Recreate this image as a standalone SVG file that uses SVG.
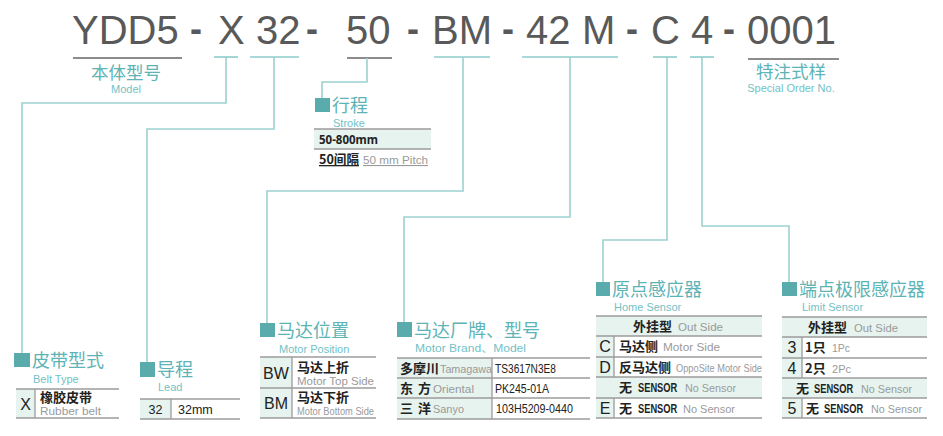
<svg xmlns="http://www.w3.org/2000/svg" width="943" height="436" viewBox="0 0 943 436">
<style>
.hd{font-family:"Liberation Sans",Arial,sans-serif;font-size:40px;fill:#595959}
.dash{font-family:"Liberation Sans",Arial,sans-serif;font-size:36px;font-weight:bold;fill:#595959}
.ttl{font-family:"Noto Sans CJK SC",sans-serif;font-size:18px;fill:#5db3b5}
.hsub{font-family:"Noto Sans CJK SC",sans-serif;font-size:17.5px;fill:#5db3b5}
.sub{font-family:"Liberation Sans","Noto Sans CJK SC",sans-serif;font-size:11px;fill:#72c2c5}
.cn{font-family:"Noto Sans CJK SC",sans-serif;font-size:13px;font-weight:700;fill:#222}
.en{font-family:"Liberation Sans",Arial,sans-serif;font-size:11px;fill:#9a9a9a}
.code{font-family:"Liberation Sans",Arial,sans-serif;font-size:16px;fill:#222}
.val{font-family:"Liberation Sans",Arial,sans-serif;font-size:12.5px;fill:#222}
.snr{font-family:"Liberation Sans",Arial,sans-serif;font-size:13.5px;font-weight:700;fill:#222}
.sq{fill:#5aabab}
.fl{fill:#e6f3ee}
.rl{stroke:#9c9c9c;stroke-width:1.3;fill:none}
.cl{stroke:#9dd1d1;stroke-width:1.6;fill:none}
.ul{stroke:#8fcccc;stroke-width:1.6}
.ulg{stroke:#666;stroke-width:1.3}
</style>

<g id="header">
<text class="hd" x="72" y="44">YDD5</text>
<text class="dash" x="190" y="41">-</text>
<text class="hd" x="218" y="44">X</text>
<text class="hd" x="256" y="44">32</text>
<text class="dash" x="306" y="41">-</text>
<text class="hd" x="346" y="44">50</text>
<text class="dash" x="407" y="41">-</text>
<text class="hd" x="432" y="44">BM</text>
<text class="dash" x="502" y="41">-</text>
<text class="hd" x="526" y="44">42</text>
<text class="hd" x="582" y="44">M</text>
<text class="dash" x="626" y="41">-</text>
<text class="hd" x="651" y="44">C</text>
<text class="hd" x="691" y="44">4</text>
<text class="dash" x="723" y="41">-</text>
<text class="hd" x="747" y="44">0001</text>
<line class="ulg" x1="73" y1="58" x2="182" y2="58"/>
<line class="ul" x1="214" y1="57" x2="238" y2="57"/>
<line class="ul" x1="250" y1="57" x2="299" y2="57"/>
<line class="ulg" x1="347" y1="58" x2="392" y2="58"/>
<line class="ul" x1="434" y1="57" x2="490" y2="57"/>
<line class="ul" x1="522" y1="57" x2="618" y2="57"/>
<line class="ul" x1="653" y1="57" x2="677" y2="57"/>
<line class="ul" x1="690" y1="57" x2="714" y2="57"/>
<line class="ulg" x1="748" y1="59" x2="839" y2="59"/>
</g>

<g id="model">
<text class="hsub" x="126" y="78.5" text-anchor="middle">本体型号</text>
<text class="sub" x="126" y="93" text-anchor="middle">Model</text>
</g>

<g id="special-order">
<text class="hsub" x="791" y="77.5" text-anchor="middle">特注式样</text>
<text class="sub" x="791" y="91.5" text-anchor="middle">Special Order No.</text>
</g>

<g id="connectors">
<path class="cl" d="M226 57V103H22V353"/>
<path class="cl" d="M274 57V129H147V362"/>
<path class="cl" d="M367 58V82H322V98"/>
<path class="cl" d="M463 57V191H267V323"/>
<path class="cl" d="M570 57V217H404V322"/>
<path class="cl" d="M667 57V240H603V282"/>
<path class="cl" d="M702 57V226H789V282"/>
</g>

<g id="stroke">
<rect class="sq" x="315" y="98" width="15" height="14"/>
<text class="ttl" x="332" y="112">行程</text>
<text class="sub" x="333" y="126.5">Stroke</text>
<rect class="fl" x="314" y="129" width="117" height="20"/>
<path class="rl" d="M314 129H431M314 149H431"/>
<text x="319" y="144" font-family="Noto Sans,sans-serif" font-size="13" font-weight="700" fill="#222" textLength="59" lengthAdjust="spacingAndGlyphs">50-800mm</text>
<text x="319" y="164" font-family="Noto Sans CJK SC,sans-serif" font-size="13" font-weight="700" fill="#222" text-decoration="underline" textLength="40" lengthAdjust="spacingAndGlyphs">50间隔</text>
<text x="363" y="164" class="en" text-decoration="underline" textLength="65" lengthAdjust="spacingAndGlyphs">50 mm Pitch</text>
</g>

<g id="belt-type">
<rect class="sq" x="14" y="353" width="16" height="14"/>
<text class="ttl" x="32" y="367">皮带型式</text>
<text class="sub" x="33" y="383">Belt Type</text>
<rect class="fl" x="16" y="389" width="19" height="29"/>
<path class="rl" d="M16 389H119M16 418H119M35 389V418"/>
<text class="code" x="25.5" y="410" text-anchor="middle">X</text>
<text class="cn" x="40" y="402">橡胶皮带</text>
<text class="en" x="40" y="415" textLength="61" lengthAdjust="spacingAndGlyphs">Rubber belt</text>
</g>

<g id="lead">
<rect class="sq" x="140" y="362" width="15" height="15"/>
<text class="ttl" x="157" y="376">导程</text>
<text class="sub" x="158" y="391">Lead</text>
<rect class="fl" x="140" y="399" width="31" height="20"/>
<path class="rl" d="M140 399H240M140 419H240M171 399V419"/>
<text class="val" x="155.5" y="413.5" text-anchor="middle" font-size="13">32</text>
<text class="val" x="178" y="413.5" font-size="13">32mm</text>
</g>

<g id="motor-position">
<rect class="sq" x="260" y="323" width="15" height="14"/>
<text class="ttl" x="277" y="337">马达位置</text>
<text class="sub" x="279" y="353">Motor Position</text>
<rect class="fl" x="260" y="357" width="32" height="61"/>
<path class="rl" d="M260 357H376M260 388H376M260 418H376M292 357V418"/>
<text class="code" x="276" y="379" text-anchor="middle" font-size="15">BW</text>
<text class="code" x="276" y="409" text-anchor="middle" font-size="15">BM</text>
<text class="cn" x="297" y="372">马达上折</text>
<text class="en" x="297" y="385" textLength="77" lengthAdjust="spacingAndGlyphs">Motor Top Side</text>
<text class="cn" x="297" y="402">马达下折</text>
<text class="en" x="297" y="415" textLength="77" lengthAdjust="spacingAndGlyphs">Motor Bottom Side</text>
</g>

<g id="motor-brand">
<rect class="sq" x="397" y="322" width="15" height="15"/>
<text class="ttl" x="414" y="337">马达厂牌、型号</text>
<text class="sub" x="415" y="352" textLength="111" lengthAdjust="spacingAndGlyphs">Motor Brand、Model</text>
<rect class="fl" x="397" y="358" width="95" height="61"/>
<path class="rl" d="M397 358H590M397 378H590M397 398H590M397 419H590M492 358V419"/>
<text class="cn" x="400" y="373">多摩川</text>
<text class="en" x="440" y="373" textLength="52" lengthAdjust="spacingAndGlyphs">Tamagawa</text>
<text class="cn" x="400" y="393">东</text>
<text class="cn" x="418" y="393">方</text>
<text class="en" x="433" y="393" textLength="41" lengthAdjust="spacingAndGlyphs">Oriental</text>
<text class="cn" x="400" y="413">三</text>
<text class="cn" x="418" y="413">洋</text>
<text class="en" x="433" y="413" textLength="31" lengthAdjust="spacingAndGlyphs">Sanyo</text>
<text class="val" x="495" y="372.5" textLength="61" lengthAdjust="spacingAndGlyphs">TS3617N3E8</text>
<text class="val" x="495" y="392.5" textLength="54" lengthAdjust="spacingAndGlyphs">PK245-01A</text>
<text class="val" x="496" y="413" textLength="77" lengthAdjust="spacingAndGlyphs">103H5209-0440</text>
</g>

<g id="home-sensor">
<rect class="sq" x="596" y="282" width="14" height="14"/>
<text class="ttl" x="612" y="296">原点感应器</text>
<text class="sub" x="614" y="311">Home Sensor</text>
<rect class="fl" x="596" y="316" width="166" height="20"/>
<rect class="fl" x="596" y="336" width="18" height="41"/>
<rect class="fl" x="596" y="377" width="166" height="21"/>
<rect class="fl" x="596" y="398" width="18" height="20"/>
<path class="rl" d="M596 316H762M596 336H762M596 357H762M596 377H762M596 398H762M596 418H762M614 336V377M614 398V418"/>
<text class="cn" x="633" y="331">外挂型</text>
<text class="en" x="678" y="331" textLength="45" lengthAdjust="spacingAndGlyphs">Out Side</text>
<text class="code" x="605" y="352" text-anchor="middle">C</text>
<text class="cn" x="619" y="351">马达侧</text>
<text class="en" x="663" y="351" textLength="57" lengthAdjust="spacingAndGlyphs">Motor Side</text>
<text class="code" x="605" y="373" text-anchor="middle">D</text>
<text class="cn" x="619" y="371.5">反马达侧</text>
<text class="en" x="676" y="371.5" textLength="86" lengthAdjust="spacingAndGlyphs" font-size="10">OppoSite Motor Side</text>
<text class="cn" x="619" y="392">无</text>
<text class="snr" transform="translate(638 392) scale(0.69 1)">SENSOR</text>
<text class="en" x="685" y="392" textLength="51" lengthAdjust="spacingAndGlyphs">No Sensor</text>
<text class="code" x="605" y="414" text-anchor="middle">E</text>
<text class="cn" x="619" y="412.5">无</text>
<text class="snr" transform="translate(638 412.5) scale(0.69 1)">SENSOR</text>
<text class="en" x="683" y="412.5" textLength="52" lengthAdjust="spacingAndGlyphs">No Sensor</text>
</g>

<g id="limit-sensor">
<rect class="sq" x="782" y="282" width="15" height="14"/>
<text class="ttl" x="799" y="296">端点极限感应器</text>
<text class="sub" x="802" y="310.5">Limit Sensor</text>
<rect class="fl" x="782" y="317" width="145" height="20"/>
<rect class="fl" x="782" y="337" width="20" height="41"/>
<rect class="fl" x="782" y="378" width="145" height="20"/>
<rect class="fl" x="782" y="398" width="20" height="20"/>
<path class="rl" d="M782 317H927M782 337H927M782 358H927M782 378H927M782 398H927M782 418H927M802 337V378M802 398V418"/>
<text class="cn" x="808" y="332">外挂型</text>
<text class="en" x="854" y="332" textLength="44" lengthAdjust="spacingAndGlyphs">Out Side</text>
<text class="code" x="792" y="353" text-anchor="middle">3</text>
<text class="cn" x="805" y="352">1只</text>
<text class="en" x="832" y="352" textLength="18" lengthAdjust="spacingAndGlyphs">1Pc</text>
<text class="code" x="792" y="374" text-anchor="middle">4</text>
<text class="cn" x="805" y="372.5">2只</text>
<text class="en" x="832" y="372.5" textLength="19" lengthAdjust="spacingAndGlyphs">2Pc</text>
<text class="cn" x="796" y="393">无</text>
<text class="snr" transform="translate(814 393) scale(0.69 1)">SENSOR</text>
<text class="en" x="861" y="393" textLength="51" lengthAdjust="spacingAndGlyphs">No Sensor</text>
<text class="code" x="792" y="414" text-anchor="middle">5</text>
<text class="cn" x="806" y="413">无</text>
<text class="snr" transform="translate(824 413) scale(0.69 1)">SENSOR</text>
<text class="en" x="871" y="413" textLength="51" lengthAdjust="spacingAndGlyphs">No Sensor</text>
</g>
</svg>
